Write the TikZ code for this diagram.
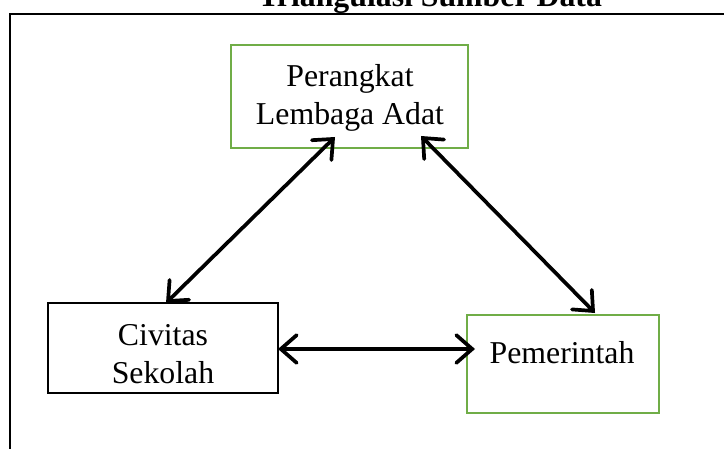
\documentclass[tikz,border=0pt]{standalone}
\usepackage{fontspec}
\setmainfont{Liberation Serif}
\usetikzlibrary{arrows.meta}
\definecolor{boxgreen}{RGB}{112,173,71}
\begin{document}
\begin{tikzpicture}[x=0.3774pt,y=-0.3774pt,
  frame/.style={draw=black,line width=1.1pt},
  greenbox/.style={draw=boxgreen,line width=0.75pt,rectangle,inner sep=0pt,fill=white},
  blackbox/.style={draw=black,line width=0.8pt,rectangle,inner sep=0pt,fill=white},
  lbl/.style={font=\fontsize{12pt}{14pt}\selectfont,anchor=base,inner sep=0pt},
  ttl/.style={font=\fontsize{12pt}{14pt}\selectfont\bfseries,anchor=base,inner sep=0pt},
  tip/.style={},
  conn/.style={line width=1.4pt,{Straight Barb[length=6pt,width=10.5pt,line cap=round]}-{Straight Barb[length=6pt,width=10.5pt,line cap=round]}}
]
\useasboundingbox (0,0) rectangle (724,448);
\clip (0,0) rectangle (724,448);
\node[ttl] (title) at (430,7) {Triangulasi Sumber Data};
\draw[frame] (10,14) rectangle (760,480);
% boxes
\node[greenbox,minimum width=89.44pt,minimum height=38.87pt] (top) at (349.5,96.5) {};
\node[blackbox,minimum width=86.80pt,minimum height=33.97pt] (civ) at (163,348) {};
\node[greenbox,minimum width=72.46pt,minimum height=36.99pt] (pem) at (563,364) {};
% texts
\node[lbl] (t1) at (350,87) {Perangkat};
\node[lbl] (t2) at (350,125) {Lembaga Adat};
\node[lbl] (c1) at (163,345) {Civitas};
\node[lbl] (c2) at (163,383) {Sekolah};
\node[lbl] (p1) at (562,363) {Pemerintah};
% arrow end points
\coordinate (a1) at (335,137);
\coordinate (a2) at (166,303);
\coordinate (b1) at (421,136);
\coordinate (b2) at (595,313);
\coordinate (h1) at (278,349);
\coordinate (h2) at (475,349);
\draw[conn] (a2) -- (a1);
\draw[conn] (b1) -- (b2);
\draw[conn] (h1) -- (h2);
\end{tikzpicture}
\end{document}
